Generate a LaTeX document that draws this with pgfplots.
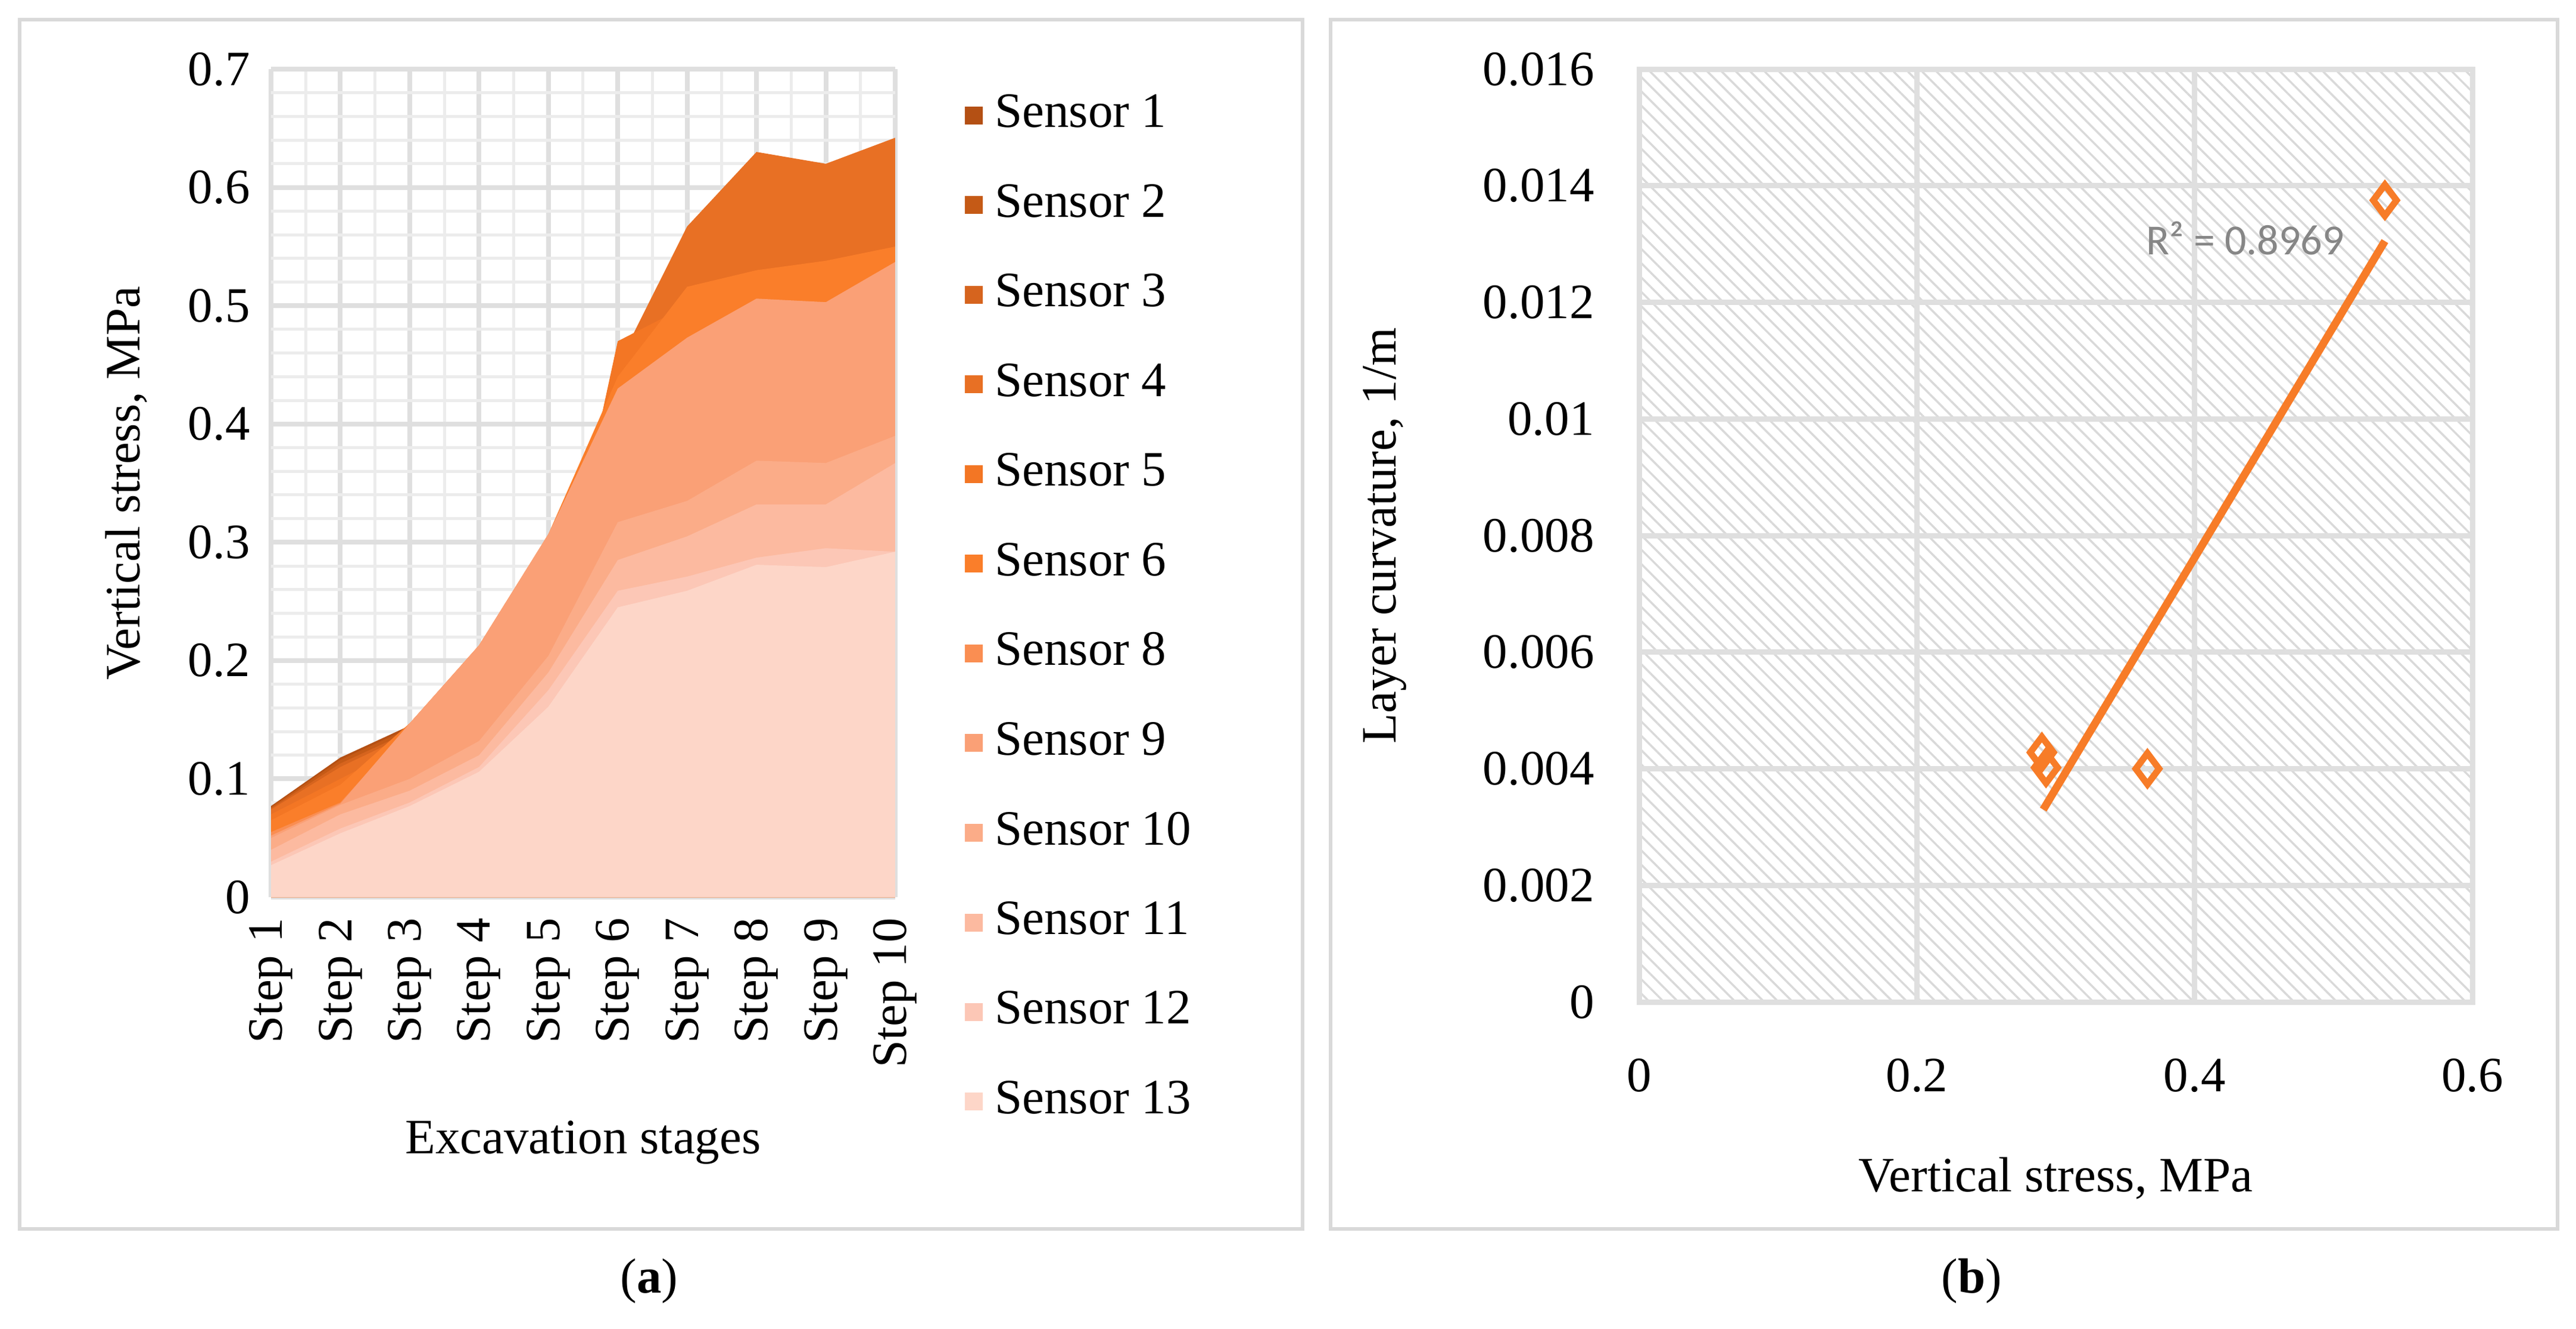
\documentclass[border=0pt]{standalone}
\usepackage{pgfplots}
\pgfplotsset{compat=1.18}
\usepackage{fontspec}
\setmainfont{Liberation Serif}
\newfontfamily\carlitofont{Carlito}
\usetikzlibrary{patterns.meta}
\definecolor{s1}{RGB}{180,80,20}
\definecolor{s2}{RGB}{197,90,22}
\definecolor{s3}{RGB}{214,100,30}
\definecolor{s4}{RGB}{232,112,36}
\definecolor{s5}{RGB}{243,118,36}
\definecolor{s6}{RGB}{250,126,42}
\definecolor{s8}{RGB}{250,142,82}
\definecolor{s9}{RGB}{250,160,118}
\definecolor{s10}{RGB}{251,172,136}
\definecolor{s11}{RGB}{252,186,160}
\definecolor{s12}{RGB}{252,199,182}
\definecolor{s13}{RGB}{253,214,200}
\definecolor{tr}{RGB}{247,124,40}
\begin{document}
\begin{tikzpicture}[x=1pt,y=1pt]
\path (0,0) rectangle (432.5,223);
\draw[gray!30,line width=0.6pt] (3.3,16.7) rectangle (218.7,219.7);
\draw[gray!30,line width=0.6pt] (223.4,16.7) rectangle (429.4,219.7);
\node[font=\fontsize{8.3}{10}\selectfont] at (109,8) {(\textbf{a})};
\node[font=\fontsize{8.3}{10}\selectfont] at (331,8) {(\textbf{b})};
\begin{axis}[at={(45.5pt,72.4pt)},anchor=south west,scale only axis,
 width=104.8pt,height=139pt,xmin=1,xmax=10,ymin=0,ymax=0.7,
 xtick={1,...,10},xticklabels={Step 1,Step 2,Step 3,Step 4,Step 5,Step 6,Step 7,Step 8,Step 9,Step 10},
 xticklabel style={rotate=90,anchor=east},
 ytick={0,0.1,...,0.7},yticklabel style={/pgf/number format/fixed},
 /pgf/number format/assume math mode=true,
 minor x tick num=1, minor y tick num=4,
 grid=both, major grid style={gray!25,line width=0.8pt}, minor grid style={gray!15,line width=0.5pt},
 axis line style={draw=none}, tick style={draw=none},
 tick label style={font=\fontsize{8.3}{10}\selectfont},
 label style={font=\fontsize{8.3}{10}\selectfont},
 xlabel={Excavation stages}, ylabel={Vertical stress, MPa},
 xlabel style={yshift=-2pt},
 legend cell align=left,
 legend style={at={(1.11,0.985)},anchor=north west,draw=none,fill=none,
   font=\fontsize{8.3}{10}\selectfont,row sep=4.05pt,inner sep=0pt},
 legend image code/.code={\fill[#1] (0pt,-1.5pt) rectangle (3pt,1.5pt);},
 axis on top=false]
\addplot[fill=s1,draw=none] coordinates {(1,0.077)(2,0.118)(3,0.145)(4,0.15)(5,0.2)(6,0.3)(7,0.35)(8,0.4)(9,0.4)(10,0.4)} \closedcycle;
\addlegendentry{Sensor 1}
\addplot[fill=s2,draw=none] coordinates {(1,0.076)(2,0.116)(3,0.143)(4,0.15)(5,0.2)(6,0.3)(7,0.35)(8,0.4)(9,0.4)(10,0.4)} \closedcycle;
\addlegendentry{Sensor 2}
\addplot[fill=s3,draw=none] coordinates {(1,0.075)(2,0.113)(3,0.14)(4,0.15)(5,0.2)(6,0.3)(7,0.35)(8,0.4)(9,0.4)(10,0.4)} \closedcycle;
\addlegendentry{Sensor 3}
\addplot[fill=s4,draw=none] coordinates {(1,0.074)(2,0.11)(3,0.138)(4,0.15)(5,0.2)(6,0.45)(7,0.567)(8,0.63)(9,0.62)(10,0.642)} \closedcycle;
\addlegendentry{Sensor 4}
\addplot[fill=s5,draw=none] coordinates {(1,0.07)(2,0.1)(3,0.13)(4,0.15)(5,0.2)(6,0.47)(7,0.50)(8,0.507)(9,0.503)(10,0.52)} \closedcycle;
\addlegendentry{Sensor 5}
\addplot[fill=s6,draw=none] coordinates {(1,0.065)(2,0.095)(3,0.147)(4,0.213)(5,0.307)(6,0.44)(7,0.516)(8,0.53)(9,0.538)(10,0.55)} \closedcycle;
\addlegendentry{Sensor 6}
\addplot[fill=s8,draw=none] coordinates {(1,0.055)(2,0.08)(3,0.145)(4,0.21)(5,0.305)(6,0.42)(7,0.47)(8,0.5)(9,0.5)(10,0.53)} \closedcycle;
\addlegendentry{Sensor 8}
\addplot[fill=s9,draw=none] coordinates {(1,0.052)(2,0.079)(3,0.147)(4,0.213)(5,0.307)(6,0.43)(7,0.473)(8,0.506)(9,0.503)(10,0.537)} \closedcycle;
\addlegendentry{Sensor 9}
\addplot[fill=s10,draw=none] coordinates {(1,0.05)(2,0.078)(3,0.1)(4,0.132)(5,0.204)(6,0.317)(7,0.335)(8,0.369)(9,0.367)(10,0.39)} \closedcycle;
\addlegendentry{Sensor 10}
\addplot[fill=s11,draw=none] coordinates {(1,0.04)(2,0.07)(3,0.09)(4,0.12)(5,0.19)(6,0.285)(7,0.305)(8,0.332)(9,0.332)(10,0.367)} \closedcycle;
\addlegendentry{Sensor 11}
\addplot[fill=s12,draw=none] coordinates {(1,0.03)(2,0.058)(3,0.08)(4,0.11)(5,0.175)(6,0.259)(7,0.271)(8,0.287)(9,0.295)(10,0.292)} \closedcycle;
\addlegendentry{Sensor 12}
\addplot[fill=s13,draw=none] coordinates {(1,0.027)(2,0.054)(3,0.077)(4,0.106)(5,0.161)(6,0.245)(7,0.259)(8,0.281)(9,0.279)(10,0.292)} \closedcycle;
\addlegendentry{Sensor 13}
\end{axis}
\begin{axis}[at={(275.2pt,54.8pt)},anchor=south west,scale only axis,
 width=139.9pt,height=156.6pt,xmin=0,xmax=0.6,ymin=0,ymax=0.016,
 xtick={0,0.2,0.4,0.6},ytick={0,0.002,...,0.016},
 scaled y ticks=false,
 yticklabel style={/pgf/number format/fixed,/pgf/number format/precision=3},
 xticklabel style={/pgf/number format/fixed},
 /pgf/number format/assume math mode=true,
 axis background/.style={pattern={Lines[angle=-45,distance=1.7pt,line width=0.35pt]},pattern color=gray!30},
 grid=major, major grid style={gray!25,line width=0.9pt},
 axis line style={gray!25,line width=0.9pt}, tick style={draw=none},
 tick label style={font=\fontsize{8.3}{10}\selectfont},
 label style={font=\fontsize{8.3}{10}\selectfont},
 xlabel={Vertical stress, MPa}, ylabel={Layer curvature, 1/m},
 xticklabel style={yshift=-6pt}, yticklabel style={xshift=-4pt},
 xlabel style={yshift=-4pt}, ylabel style={yshift=6pt}]
\addplot[tr,line width=1.3pt] coordinates {(0.291,0.0033)(0.537,0.01305)};
\addplot[only marks,mark=diamond,mark size=2.6pt,mark options={tr,line width=1.1pt}] coordinates {(0.29,0.00428)(0.293,0.00402)(0.366,0.00400)(0.537,0.01375)};
\node[font=\carlitofont\fontsize{7.2}{9}\selectfont,text=gray!95,anchor=west] at (axis cs:0.35,0.0131) {R² = 0.8969};
\end{axis}
\end{tikzpicture}
\end{document}
